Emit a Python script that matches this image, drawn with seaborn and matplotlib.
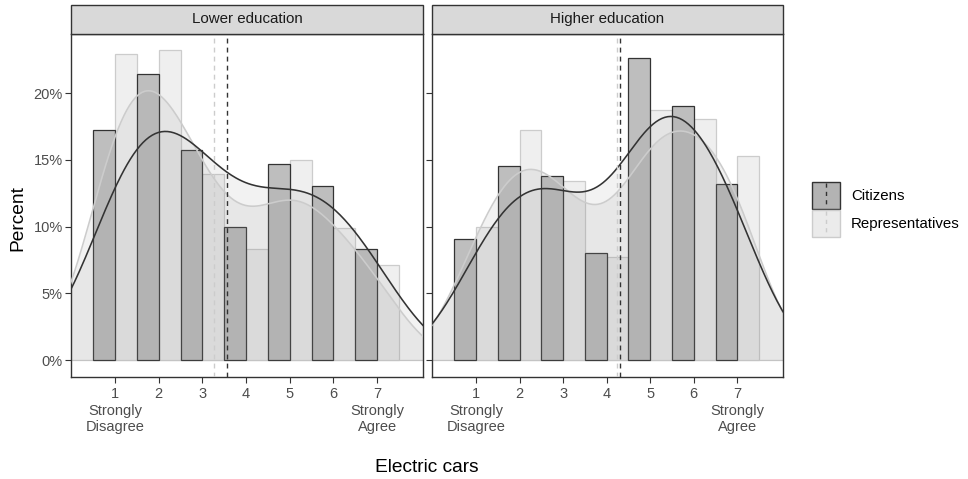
import numpy as np
import pandas as pd
import matplotlib
matplotlib.use("Agg")
import matplotlib.pyplot as plt
from matplotlib.patches import Rectangle
from matplotlib.ticker import PercentFormatter
import seaborn as sns

# ---------------- data ----------------
categories = [1, 2, 3, 4, 5, 6, 7]
tick_labels = ["1\nStrongly\nDisagree", "2", "3", "4", "5", "6", "7\nStrongly\nAgree"]
panels = ["Lower education", "Higher education"]
groups = ["Citizens", "Representatives"]

lower_citizens = [17.2, 21.4, 15.7, 10.0, 14.7, 13.0, 8.3]
lower_representatives = [22.9, 23.2, 13.9, 8.3, 15.0, 9.9, 7.1]
higher_citizens = [9.1, 14.5, 13.8, 8.0, 22.6, 19.0, 13.2]
higher_representatives = [10.0, 17.2, 13.4, 7.7, 18.7, 18.05, 15.25]

# kernel bandwidths (in scale units) of the density curves
kde_bandwidth = {
    ("Lower education", "Citizens"): 1.0,
    ("Lower education", "Representatives"): 0.83,
    ("Higher education", "Citizens"): 0.9,
    ("Higher education", "Representatives"): 0.8,
}

series = {
    ("Lower education", "Citizens"): lower_citizens,
    ("Lower education", "Representatives"): lower_representatives,
    ("Higher education", "Citizens"): higher_citizens,
    ("Higher education", "Representatives"): higher_representatives,
}
rows = []
for (panel, group), vals in series.items():
    for c, v in zip(categories, vals):
        rows.append({"panel": panel, "group": group, "value": c, "frac": v / 100.0})
df = pd.DataFrame(rows)

# ---------------- style ----------------
sns.set_theme(style="white")
plt.rcParams["font.family"] = ["Liberation Sans", "DejaVu Sans"]

W, H = 968, 479
fig = plt.figure(figsize=(W / 100, H / 100), dpi=100)

bar_fill = {"Citizens": "#bebebe", "Representatives": "#efefef"}
edge_col = {"Citizens": "#333333", "Representatives": "#cccccc"}
line_col = {"Citizens": "#333333", "Representatives": "#cccccc"}

panel_left = [71, 432]
panel_width = [352, 351]
top_px, bottom_px = 34, 377
strip_h = 29


def bandwidth_factor(gsub, h):
    x = gsub["value"].to_numpy(float)
    w = gsub["frac"].to_numpy(float)
    sd = np.sqrt(np.cov(x, aweights=w))
    return h / sd


for i, panel in enumerate(panels):
    ax = fig.add_axes([panel_left[i] / W, (H - bottom_px) / H,
                       panel_width[i] / W, (bottom_px - top_px) / H])
    sub = df[df.panel == panel]

    ax.axhline(0, color="#cccccc", lw=0.9, zorder=0.5)

    sns.histplot(data=sub, x="value", weights="frac", hue="group", hue_order=groups,
                 multiple="dodge", discrete=True, shrink=1, palette=bar_fill,
                 alpha=1, linewidth=0.9, legend=False, ax=ax, zorder=1)
    for p in ax.patches:
        fc = p.get_facecolor()
        p.set_edgecolor(edge_col["Citizens"] if fc[0] < 0.85 else edge_col["Representatives"])

    for g in groups:
        gsub = sub[sub.group == g]
        bw = bandwidth_factor(gsub, kde_bandwidth[(panel, g)])
        sns.kdeplot(data=gsub, x="value", weights="frac", bw_method=bw, cut=4,
                    gridsize=400, fill=True, color="#8c8c8c", alpha=0.106,
                    linewidth=0, ax=ax, zorder=2)
    for g in ["Representatives", "Citizens"]:
        gsub = sub[sub.group == g]
        bw = bandwidth_factor(gsub, kde_bandwidth[(panel, g)])
        sns.kdeplot(data=gsub, x="value", weights="frac", bw_method=bw, cut=4,
                    gridsize=400, color=line_col[g], linewidth=1.15, ax=ax, zorder=3)

    for g in ["Representatives", "Citizens"]:
        gsub = sub[sub.group == g]
        m = np.average(gsub["value"], weights=gsub["frac"])
        ax.axvline(m, color=line_col[g], lw=1.0, ls=(0, (3.5, 3)), zorder=4)

    ax.set_xlim(-0.01, 8.05)
    ax.set_ylim(-0.0127, 0.2442)
    ax.set_xticks(categories)
    ax.set_xticklabels(tick_labels, linespacing=1.2)
    ax.set_yticks([0, 0.05, 0.10, 0.15, 0.20])
    ax.yaxis.set_major_formatter(PercentFormatter(xmax=1, decimals=0))
    if i > 0:
        ax.set_yticklabels([])
    ax.set_xlabel("")
    ax.set_ylabel("")
    ax.tick_params(axis="both", which="both", length=4, width=0.8, color="#333333",
                   labelsize=10.5, labelcolor="#4d4d4d", pad=2,
                   bottom=True, left=True)
    ax.tick_params(axis="x", pad=3.5)
    for s in ax.spines.values():
        s.set_color("#333333")
        s.set_linewidth(1.0)
    ax.grid(False)

    # facet strip
    sh = strip_h / (bottom_px - top_px)
    rect = Rectangle((0, 1), 1, sh, transform=ax.transAxes, facecolor="#d9d9d9",
                     edgecolor="#333333", lw=1.0, clip_on=False, zorder=5)
    ax.add_patch(rect)
    ax.text(0.5, 1 + sh / 2, panel, transform=ax.transAxes, ha="center", va="center",
            fontsize=10.9, color="#1a1a1a", zorder=6)

# axis titles
fig.text(18 / W, 1 - 218 / H, "Percent", rotation=90, ha="center", va="center",
         fontsize=13.8, color="black")
fig.text(427 / W, 1 - 468 / H, "Electric cars", ha="center", va="center",
         fontsize=13.8, color="black")

# legend
lg = fig.add_axes([0, 0, 1, 1])
lg.set_xlim(0, W)
lg.set_ylim(H, 0)
lg.axis("off")
lg.patch.set_alpha(0)
for k, g in enumerate(groups):
    y0 = 182 + k * 28
    lg.add_patch(Rectangle((812, y0), 28, 27, facecolor="#b3b3b3" if g == "Citizens" else "#ebebeb",
                           edgecolor=edge_col[g], lw=1.0))
    lg.plot([826, 826], [y0 + 1, y0 + 26], color=line_col[g], lw=1.0, ls=(0, (3, 3)))
    lg.text(851, y0 + 14, g, ha="left", va="center", fontsize=10.8, color="black")

fig.savefig("out.png", dpi=100)
